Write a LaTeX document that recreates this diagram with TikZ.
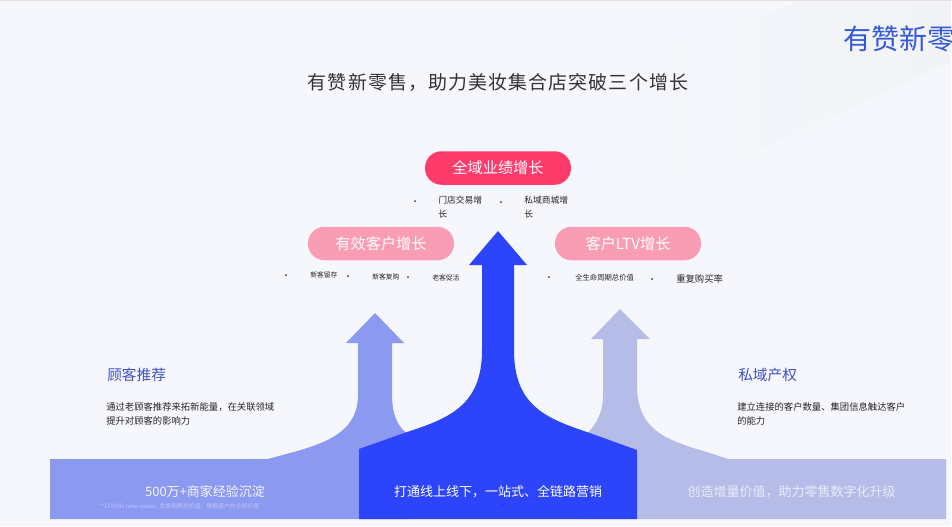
\documentclass[tikz,border=0pt]{standalone}
\usepackage{fontspec}
\setmainfont{Noto Sans CJK SC}
\usetikzlibrary{positioning}

\definecolor{pageBg}{HTML}{F6F7FC}
\definecolor{bandBg}{HTML}{F2F3F7}
\definecolor{deepBlue}{HTML}{2C45FB}
\definecolor{midBlue}{HTML}{8C99F0}
\definecolor{paleBlue}{HTML}{B5BCE8}
\definecolor{headBlue}{HTML}{3F53BF}
\definecolor{logoBlue}{HTML}{3358D8}
\definecolor{hotPink}{HTML}{FF3B6C}
\definecolor{softPink}{HTML}{F99DB4}

\tikzset{
  pill/.style={rounded corners=16.5*0.75pt,minimum width=146*0.75pt,minimum height=33.5*0.75pt,
    text=white,inner sep=0pt,font=\fontsize{11.4pt}{11.4pt}\selectfont},
  tiny/.style={inner sep=0pt,text=black!85,font=\fontsize{5.1pt}{5.1pt}\selectfont},
  small/.style={inner sep=0pt,text=black!85,align=left,font=\fontsize{6.6pt}{10.5pt}\selectfont},
  para/.style={inner sep=0pt,text=black!85,align=left,font=\fontsize{7pt}{10.5pt}\selectfont},
  heading/.style={inner sep=0pt,text=headBlue,font=\fontsize{11pt}{11pt}\selectfont},
  baseLabel/.style={inner sep=0pt,text=white,font=\fontsize{9.75pt}{10pt}\selectfont},
  spot/.style={circle,fill=black!80,inner sep=0pt,minimum size=1.5pt}
}

\begin{document}
\begin{tikzpicture}[x=0.75pt,y=-0.75pt]
  \useasboundingbox (0,0) rectangle (952,526);
  \fill[pageBg] (0,0) rectangle (952,526);
  \path[left color=pageBg,right color=bandBg] (645,55) -- (800,2) -- (951,2) -- (951,62) -- (705,175) -- (645,175) -- cycle;
  \fill[black!12] (0,0) rectangle (952,1);
  \fill[white] (951,0) rectangle (952,526);

  % side arrows, the middle one goes over them
  \fill[midBlue] (50,459) -- (268,459)
    .. controls (310,447) and (358,440) .. (358,395)
    -- (358,343) -- (346,343) -- (375,313) -- (404,343) -- (392,343) -- (392,395)
    .. controls (392,415) and (398,428) .. (410,436) -- (410,519) -- (50,519) -- cycle;
  \fill[paleBlue] (946,459) -- (728,459)
    .. controls (680,442) and (637,440) .. (637,385)
    -- (637,339) -- (650,339) -- (620,309) -- (591,339) -- (603,339) -- (603,395)
    .. controls (603,412) and (597,424) .. (585,436) -- (585,519) -- (946,519) -- cycle;
  \fill[deepBlue] (359,519) -- (359,449) -- (407,432)
    .. controls (450,418) and (482,405) .. (482,350)
    -- (482,265) -- (469,265) -- (498,231) -- (527,265) -- (514,265) -- (514,350)
    .. controls (514,405) and (545,418) .. (587,432)
    -- (637,450) -- (637,519) -- cycle;

  \node (title)
        [inner sep=0pt,text=black!80,font=\fontsize{14.2pt}{15pt}\selectfont\addfontfeature{LetterSpace=6}]
        at (498,82) {有赞新零售，助力美妆集合店突破三个增长};
  \node (logo)
        [inner sep=0pt,anchor=west,text=logoBlue,font=\fontsize{21pt}{21pt}\selectfont]
        at (843,39) {有赞新零};

  \node (allGrowth)
        [pill,fill=hotPink]
        at (498,168) {全域业绩增长};
  \node (customerGrowth)
        [pill,fill=softPink]
        at (381,243.5) {有效客户增长};
  \node (ltvGrowth)
        [pill,fill=softPink]
        at (628,243.5) {客户LTV增长};

  \node (spotStore) [spot] at (415,201) {};
  \node (store)
        [small,anchor=north west]
        at (438,195.5) {门店交易增\\长};
  \node (spotMall) [spot] at (501,202) {};
  \node (mall)
        [small,anchor=north west]
        at (524,195.5) {私域商城增\\长};

  \node (spotKeep) [spot] at (286,275) {};
  \node (keep)
        [tiny,anchor=west]
        at (310,275) {新客留存};
  \node (spotRebuy) [spot] at (348,276) {};
  \node (rebuy)
        [tiny,anchor=west]
        at (372,276.5) {新客复购};
  \node (spotActive) [spot] at (408,277) {};
  \node (active)
        [tiny,anchor=west]
        at (432,277.5) {老客促活};

  \node (spotLife) [spot] at (549,277) {};
  \node (lifeValue)
        [tiny,anchor=west,font=\fontsize{5.5pt}{6pt}\selectfont]
        at (575,277.5) {全生命周期总价值};
  \node (spotRate) [spot] at (652,279) {};
  \node (repeatRate)
        [para,anchor=west]
        at (676,279) {重复购买率};

  \node (referral)
        [heading,anchor=west]
        at (107,375) {顾客推荐};
  \node (referralText)
        [para,anchor=north west]
        at (106,402.5) {通过老顾客推荐来拓新能量，在关联领域\\提升对顾客的影响力};
  \node (ownership)
        [heading,anchor=west]
        at (738,375) {私域产权};
  \node (ownershipText)
        [para,anchor=north west]
        at (737,402.5) {建立连接的客户数量、集团信息触达客户\\的能力};

  \node (baseLeft)
        [baseLabel,text=white!92!midBlue]
        at (205,491.5) {500万+商家经验沉淀};
  \node (baseMid)
        [baseLabel]
        at (498,491.5) {打通线上线下，一站式、全链路营销};
  \node (baseRight)
        [baseLabel,text=white!70!paleBlue]
        at (791.5,491.5) {创造增量价值，助力零售数字化升级};
  \node (footNote)
        [inner sep=0pt,text=white!45!midBlue,font=\fontsize{4.4pt}{5pt}\selectfont]
        at (180,507) {* LTV(life time value): 生命周期总价值，根据客户的全部价值};
  \node (mark)
        [inner sep=0pt,text=black!70!deepBlue,font=\fontsize{4.4pt}{5pt}\selectfont]
        at (503,506) {-};
\end{tikzpicture}
\end{document}
